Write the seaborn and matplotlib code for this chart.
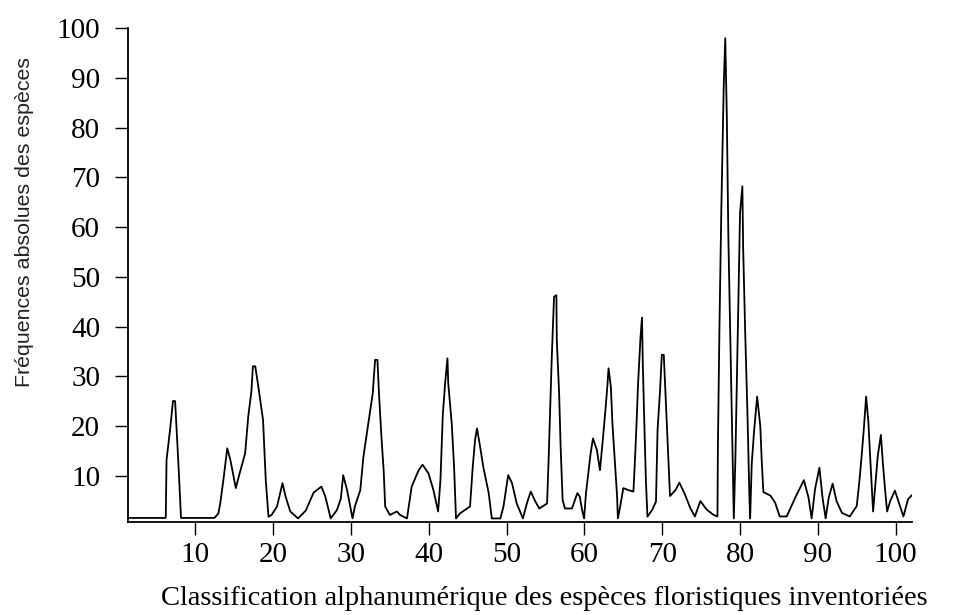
import matplotlib
matplotlib.use("Agg")
import matplotlib.pyplot as plt
import seaborn as sns
import pandas as pd

# Species position (alphanumeric classification) and absolute frequency
species_pos = [
    1.35, 6.2, 6.3, 6.75, 7.13, 7.4, 7.6, 7.8, 8.16, 12.45, 12.96, 13.2, 13.6, 14.1, 14.5,
    15.2, 15.7, 16.4, 16.8, 17.2, 17.4, 17.7, 18.1, 18.7, 19.05, 19.4, 19.8, 20.5, 21.2,
    21.6, 22.2, 23.2, 24.2, 25.2, 26.2, 26.7, 27.4, 28.2, 28.7, 29.0, 29.5, 30.2, 30.5,
    31.2, 31.6, 32.2, 32.8, 33.1, 33.4, 33.6, 33.9, 34.2, 34.4, 35.0, 35.9, 36.3, 37.2,
    37.8, 38.7, 39.2, 39.95, 40.6, 41.2, 41.5, 41.8, 42.1, 42.4, 42.5, 42.95, 43.25, 43.5,
    44.0, 45.3, 45.65, 45.95, 46.2, 46.6, 47.0, 47.7, 48.1, 49.2, 49.6, 50.2, 50.7, 51.3,
    52.1, 52.6, 53.1, 53.7, 54.2, 55.2, 55.4, 55.6, 55.8, 56.1, 56.4, 56.45, 56.75, 56.95,
    57.2, 57.5, 58.4, 59.1, 59.4, 59.7, 59.96, 60.2, 60.5, 60.8, 61.1, 61.6, 62.0, 62.4,
    62.7, 62.96, 63.1, 63.4, 63.6, 63.9, 64.2, 64.3, 64.6, 65.0, 65.65, 66.3, 66.5, 66.7,
    66.9, 67.2, 67.4, 67.5, 67.7, 67.9, 68.1, 68.7, 69.2, 69.4, 69.7, 69.95, 70.2, 70.4,
    70.6, 70.8, 71.0, 71.7, 72.2, 72.9, 73.6, 74.2, 74.9, 75.7, 76.6, 77.1, 77.15, 77.35,
    77.6, 77.9, 78.1, 78.3, 78.5, 78.8, 79.1, 79.2, 79.4, 79.6, 79.8, 80.0, 80.3, 80.4,
    80.65, 80.95, 81.2, 81.3, 81.5, 81.8, 82.2, 82.6, 82.8, 83.0, 83.9, 84.5, 85.1, 86.0,
    87.1, 88.2, 88.8, 89.2, 89.65, 90.2, 90.6, 91.0, 91.4, 91.9, 92.4, 93.1, 94.1, 95.0,
    95.35, 95.65, 95.95, 96.2, 96.5, 96.7, 96.9, 97.1, 97.4, 97.7, 98.1, 98.35, 98.65,
    98.9, 99.3, 99.9, 100.5, 101.0, 101.6, 102.1,
]
frequency = [
    1.5, 1.5, 13.2, 19.2, 25.0, 25.0, 19.2, 13.2, 1.5, 1.5, 2.4, 4.4, 9.1, 15.5, 13.2,
    7.5, 10.5, 14.5, 21.9, 26.9, 32.0, 32.0, 27.9, 21.2, 9.1, 1.75, 2.1, 3.8, 8.5,
    5.8, 2.8, 1.4, 3.0, 6.6, 7.8, 5.8, 1.4, 3.1, 5.4, 10.1, 7.1, 1.4, 3.8,
    7.1, 13.8, 20.2, 26.6, 33.3, 33.3, 26.6, 18.2, 11.1, 3.8, 2.1, 2.8, 2.1, 1.4,
    7.8, 11.1, 12.2, 10.5, 7.1, 2.8, 9.1, 22.2, 28.6, 33.6, 28.6, 20.5, 11.8, 1.4,
    2.4, 3.8, 11.8, 17.2, 19.5, 15.8, 11.8, 6.5, 1.4, 1.4, 3.8, 10.1, 8.5, 4.4,
    1.4, 4.4, 6.8, 4.8, 3.4, 4.4, 13.2, 23.2, 33.6, 46.0, 46.3, 37.3, 26.6, 15.5,
    5.1, 3.4, 3.4, 6.5, 5.8, 3.1, 1.4, 6.5, 10.5, 14.5, 17.5, 15.2, 11.1, 17.8,
    23.2, 28.2, 31.6, 27.9, 20.5, 13.2, 5.8, 1.4, 3.8, 7.5, 7.1, 6.8, 13.2, 20.5,
    28.6, 37.6, 41.8, 32.9, 20.5, 9.1, 1.75, 3.1, 4.8, 19.2, 26.6, 34.3, 34.3, 27.2,
    19.9, 12.5, 5.9, 7.1, 8.6, 6.3, 3.5, 1.8, 4.9, 3.2, 2.1, 1.8, 15.1, 39.5,
    64.0, 88.1, 98.0, 82.5, 57.9, 33.6, 9.1, 1.4, 13.3, 29.4, 46.1, 62.9, 68.2, 55.9,
    39.5, 22.7, 6.0, 1.4, 12.3, 18.9, 25.9, 20.0, 12.6, 6.7, 6.0, 4.6, 1.8, 1.8,
    5.6, 9.1, 5.6, 1.4, 7.4, 11.6, 5.6, 1.4, 5.6, 8.4, 4.9, 2.5, 1.8, 3.9,
    9.1, 14.4, 20.3, 25.9, 20.7, 14.4, 8.8, 2.8, 8.4, 14.0, 18.2, 12.6, 7.0,
    2.8, 4.9, 7.0, 4.2, 1.8, 5.3, 6.1,
]
x_ticks = [10, 20, 30, 40, 50, 60, 70, 80, 90, 100]
y_ticks = [10, 20, 30, 40, 50, 60, 70, 80, 90, 100]
x_label = "Classification alphanumérique des espèces floristiques inventoriées"
y_label = "Fréquences absolues des espèces"

sns.set_theme(style="ticks")
plt.rcParams["font.family"] = ["Liberation Serif", "DejaVu Serif"]

df = pd.DataFrame({"pos": species_pos, "freq": frequency})

fig = plt.figure(figsize=(9.59, 6.15), dpi=100)
ax = fig.add_axes([0.1335, 0.1517, 0.8175, 0.8023])

sns.lineplot(data=df, x="pos", y="freq", ax=ax, color="black", linewidth=1.3,
             sort=False, estimator=None)

ax.set_xlim(1.35, 102.1)
ax.set_ylim(0.74, 100)
ax.set_xticks(x_ticks)
ax.set_yticks(y_ticks)
ax.tick_params(axis="both", direction="out", length=9.5, width=1.0,
               labelsize=21, colors="black")
ax.tick_params(axis="y", pad=10.5)
ax.tick_params(axis="x", pad=5)
for s in ["top", "right"]:
    ax.spines[s].set_visible(False)
for s in ["left", "bottom"]:
    ax.spines[s].set_linewidth(1.3)
    ax.spines[s].set_color("black")

ax.set_xlabel(x_label, fontsize=20.5, family=["Liberation Serif"], color="black")
ax.xaxis.set_label_coords(0.531, -0.130)
ax.set_ylabel(y_label, fontsize=15.4, family=["Liberation Sans"], color="#222222")
ax.yaxis.set_label_coords(-0.12, 0.607)

fig.savefig("out.png", dpi=100)
